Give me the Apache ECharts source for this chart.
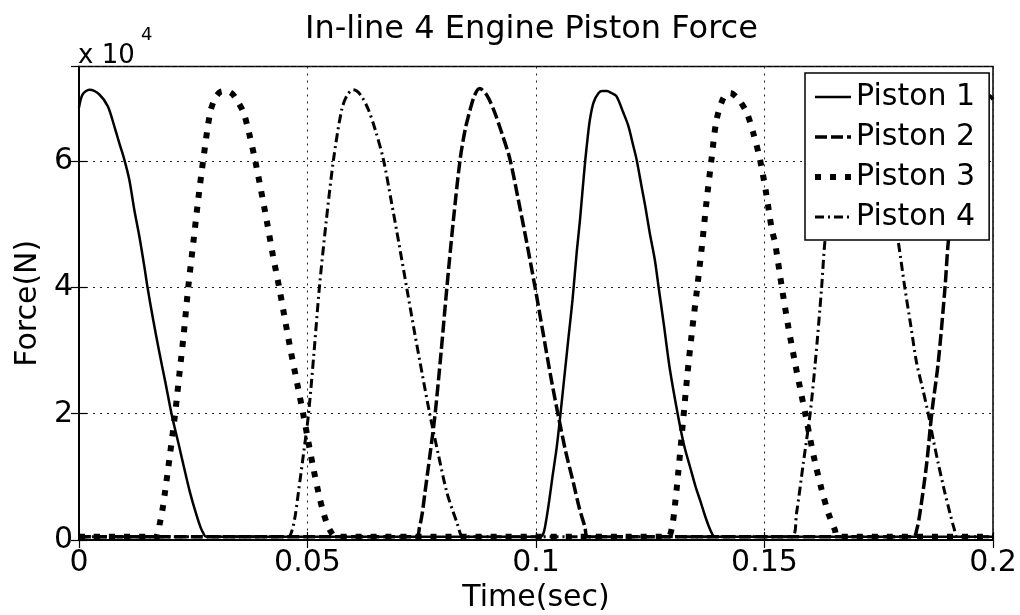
<!DOCTYPE html>
<html>
<head>
<meta charset="utf-8">
<title>In-line 4 Engine Piston Force</title>
<script src="https://cdn.jsdelivr.net/npm/echarts@6/dist/echarts.min.js"></script>
<style>
  html, body { margin: 0; padding: 0; background: #fff; }
  #chart { width: 1020px; height: 615px; }
</style>
</head>
<body>
<div id="chart"></div>
<script>
// 坐标轴刻度
const xTicks = [0, 0.05, 0.1, 0.15, 0.2]
const yTicks = [0, 20000, 40000, 60000]
const yMax = 75000
const yExponent = 4

const seriesNames = ['Piston 1', 'Piston 2', 'Piston 3', 'Piston 4']

// [time(sec), force(N)] 从图上读出
const piston1 = [
  [0, 68500], [0.0008, 70600], [0.0023, 71300], [0.0044, 70600], [0.0063, 68700],
  [0.0077, 65600], [0.0088, 62900], [0.0099, 60300], [0.011, 57100], [0.0121, 52300],
  [0.0132, 48100], [0.0143, 43300], [0.015, 40000], [0.0161, 35400], [0.0175, 30000],
  [0.0189, 25000], [0.0203, 19800], [0.0218, 15200], [0.0232, 10800], [0.0243, 7500],
  [0.0256, 4200], [0.0266, 2000], [0.0272, 1100], [0.0278, 500],
  [0.1008, 500], [0.1016, 1000], [0.1022, 3000], [0.1029, 6300], [0.1036, 10000],
  [0.1045, 14500], [0.1053, 19600], [0.1062, 25800], [0.1071, 32000], [0.108, 38100],
  [0.1089, 45500], [0.1096, 50500], [0.1102, 55500], [0.1108, 60300], [0.1113, 63700],
  [0.1118, 66600], [0.1126, 69300], [0.1137, 70800], [0.1146, 71100], [0.1155, 71100],
  [0.1165, 70800], [0.1176, 70300], [0.1191, 67700], [0.1202, 65600], [0.1213, 62400],
  [0.122, 60300], [0.1231, 56000], [0.1239, 52900], [0.1249, 48600], [0.126, 44400],
  [0.1268, 40200], [0.128, 34000], [0.1293, 27000], [0.1311, 19600], [0.1324, 15000],
  [0.1337, 11600], [0.1349, 8500], [0.1359, 6300], [0.137, 3800], [0.1379, 2000],
  [0.1386, 900], [0.1392, 500], [0.2, 500]
]

const piston2 = [
  [0, 500], [0.0738, 500], [0.0745, 2000], [0.0751, 4200], [0.0757, 7500],
  [0.0768, 13500], [0.0779, 19800], [0.0792, 29500], [0.0805, 40000], [0.0819, 50500],
  [0.0834, 60300], [0.0845, 65000], [0.0856, 68200], [0.0866, 70500], [0.0877, 71500],
  [0.0892, 70500], [0.0907, 68200], [0.0925, 64500], [0.0943, 60300], [0.0961, 54000],
  [0.098, 47000], [0.0998, 40000], [0.1015, 33000], [0.1032, 26000], [0.1049, 19600],
  [0.1065, 14000], [0.1082, 9000], [0.1095, 5000], [0.1107, 2100], [0.1114, 500],
  [0.1826, 500], [0.1833, 1600], [0.184, 4200], [0.1855, 12200], [0.1866, 20100],
  [0.188, 28000], [0.1895, 40000], [0.1902, 47100], [0.1915, 55000], [0.193, 62500],
  [0.1945, 68000], [0.196, 70500], [0.1975, 71200], [0.199, 70600], [0.2, 69800]
]

const piston3 = [
  [0, 500], [0.017, 500], [0.0177, 2700], [0.0182, 4500], [0.0188, 7500],
  [0.0199, 13500], [0.021, 19800], [0.022, 26500], [0.0229, 32500], [0.0239, 40000],
  [0.025, 47000], [0.0261, 54000], [0.0272, 60300], [0.0287, 67700], [0.0298, 70000],
  [0.031, 71000], [0.0323, 71100], [0.0335, 70700], [0.0347, 69500], [0.036, 67700],
  [0.0372, 64500], [0.0385, 60300], [0.0398, 55500], [0.0411, 50500], [0.0424, 45200],
  [0.0438, 40000], [0.0451, 34800], [0.0464, 29700], [0.0478, 24600], [0.0491, 19800],
  [0.0502, 15500], [0.0513, 11300], [0.0524, 7500], [0.0533, 4800], [0.0542, 2700],
  [0.0552, 1200], [0.0562, 500],
  [0.1288, 500], [0.1297, 1800], [0.1304, 5500], [0.1311, 10500], [0.1322, 19000],
  [0.1331, 26000], [0.1341, 32800], [0.1352, 39500], [0.1363, 46500], [0.1373, 53500],
  [0.1384, 60300], [0.1395, 66500], [0.141, 70000], [0.1425, 70800], [0.1443, 69800],
  [0.1461, 67700], [0.1476, 64300], [0.149, 60300], [0.1503, 55200], [0.1516, 49200],
  [0.1523, 47100], [0.1538, 40000], [0.1552, 33800], [0.1567, 28000], [0.1578, 24000],
  [0.1589, 20100], [0.16, 16000], [0.1611, 12200], [0.1625, 8000], [0.164, 4200],
  [0.1654, 1600], [0.166, 500], [0.2, 500]
]

const piston4 = [
  [0, 500], [0.0458, 500], [0.0466, 1500], [0.0473, 3800], [0.048, 7500],
  [0.0491, 13500], [0.0502, 19800], [0.0514, 29500], [0.0526, 40000], [0.0541, 50500],
  [0.0557, 60300], [0.0575, 68200], [0.0587, 70500], [0.06, 71300], [0.0616, 70500],
  [0.0633, 68200], [0.0649, 64800], [0.0666, 60300], [0.0683, 53800], [0.07, 47000],
  [0.0717, 40000], [0.0734, 33000], [0.0751, 26300], [0.0768, 19800], [0.0787, 13300],
  [0.0805, 7500], [0.0818, 4600], [0.0828, 2500], [0.0835, 900], [0.084, 500],
  [0.156, 500], [0.157, 4200], [0.1585, 12200], [0.16, 20100], [0.1611, 28000],
  [0.1625, 40000], [0.1632, 47100], [0.1645, 54500], [0.166, 61500], [0.1675, 67000],
  [0.1688, 70000], [0.17, 71000], [0.1715, 70300], [0.173, 68000], [0.1748, 63500],
  [0.1765, 58000], [0.178, 52700], [0.1793, 47100], [0.1807, 40000], [0.182, 34000],
  [0.1833, 28000], [0.1846, 24000], [0.1858, 20100], [0.1869, 16000], [0.188, 12200],
  [0.1893, 8000], [0.1906, 4200], [0.1915, 1800], [0.1922, 500], [0.2, 500]
]

const pistonData = [piston1, piston2, piston3, piston4]

// 线型
const lineStyles = [
  { width: 2.5, type: 'solid' },
  { width: 3.5, type: [12, 4] },
  { width: 6, type: [6, 9] },
  { width: 3, type: [9, 4, 2, 4] }
]

const font = 'DejaVu Sans'
const chart = echarts.init(document.getElementById('chart'))

const xStep = xTicks[1] - xTicks[0]
const yStep = yTicks[1] - yTicks[0]

const axisCommon = {
  axisLine: { show: true, lineStyle: { color: '#000', width: 1.5 } },
  axisTick: { show: true, inside: true, length: 8, lineStyle: { color: '#000', width: 1.2 } }
}

const option = {
  backgroundColor: '#fff',
  animation: false,
  textStyle: { fontFamily: font, color: '#000' },
  title: {
    text: 'In-line 4 Engine Piston Force',
    left: 305,
    top: 14,
    padding: 0,
    textStyle: { fontFamily: font, fontSize: 32, fontWeight: 'normal', color: '#000' }
  },
  legend: {
    data: seriesNames,
    orient: 'vertical',
    left: 805,
    top: 73,
    padding: [7, 14, 6, 7],
    itemWidth: 36,
    itemHeight: 14,
    itemGap: 6,
    backgroundColor: '#fff',
    borderColor: '#000',
    borderWidth: 1.5,
    borderRadius: 0,
    itemStyle: { opacity: 0 },
    lineStyle: { width: 'inherit', type: 'inherit', color: '#000' },
    textStyle: { fontFamily: font, fontSize: 30, color: '#000', lineHeight: 34 }
  },
  grid: {
    left: 79,
    right: 27,
    top: 66.5,
    bottom: 75,
    show: true,
    borderColor: '#000',
    borderWidth: 1.5,
    outerBoundsMode: 'none'
  },
  xAxis: [
    Object.assign({}, axisCommon, {
      type: 'value',
      min: xTicks[0],
      max: xTicks[xTicks.length - 1],
      interval: xStep,
      name: 'Time(sec)',
      nameLocation: 'middle',
      nameGap: 37,
      nameTextStyle: { fontFamily: font, fontSize: 30, color: '#000' },
      axisLabel: {
        margin: 8,
        fontFamily: font,
        fontSize: 30,
        color: '#000',
        formatter: v => String(+v.toFixed(3))
      },
      splitLine: { show: true, lineStyle: { color: '#222', width: 1, type: [2, 5] } }
    }),
    Object.assign({}, axisCommon, {
      type: 'value',
      position: 'top',
      min: xTicks[0],
      max: xTicks[xTicks.length - 1],
      interval: xStep,
      axisLabel: { show: false },
      splitLine: { show: false }
    })
  ],
  yAxis: [
    Object.assign({}, axisCommon, {
      type: 'value',
      min: yTicks[0],
      max: yMax,
      interval: yStep,
      name: 'Force(N)',
      nameLocation: 'middle',
      nameGap: 33,
      nameTextStyle: { fontFamily: font, fontSize: 30, color: '#000' },
      axisLabel: {
        margin: 6,
        fontFamily: font,
        fontSize: 30,
        color: '#000',
        showMaxLabel: false,
        formatter: v => (yTicks.indexOf(v) >= 0 ? String(v / Math.pow(10, yExponent)) : '')
      },
      splitLine: {
        show: true,
        lineStyle: { color: '#222', width: 1, type: [2, 5] }
      }
    }),
    Object.assign({}, axisCommon, {
      type: 'value',
      position: 'right',
      min: yTicks[0],
      max: yMax,
      interval: yStep,
      axisLabel: { show: false },
      splitLine: { show: false }
    })
  ],
  graphic: [
    {
      type: 'text',
      left: 78,
      top: 43,
      style: { text: 'x 10', fontFamily: font, fontSize: 26, fill: '#000' }
    },
    {
      type: 'text',
      left: 141,
      top: 26,
      style: { text: String(yExponent), fontFamily: font, fontSize: 18, fill: '#000' }
    }
  ],
  series: seriesNames.map((name, i) => ({
    name: name,
    type: 'line',
    data: pistonData[i],
    xAxisIndex: 0,
    yAxisIndex: 0,
    symbol: 'none',
    smooth: 0.3,
    clip: true,
    color: '#000',
    lineStyle: Object.assign({ color: '#000' }, lineStyles[i])
  }))
}

chart.setOption(option)
</script>
</body>
</html>
